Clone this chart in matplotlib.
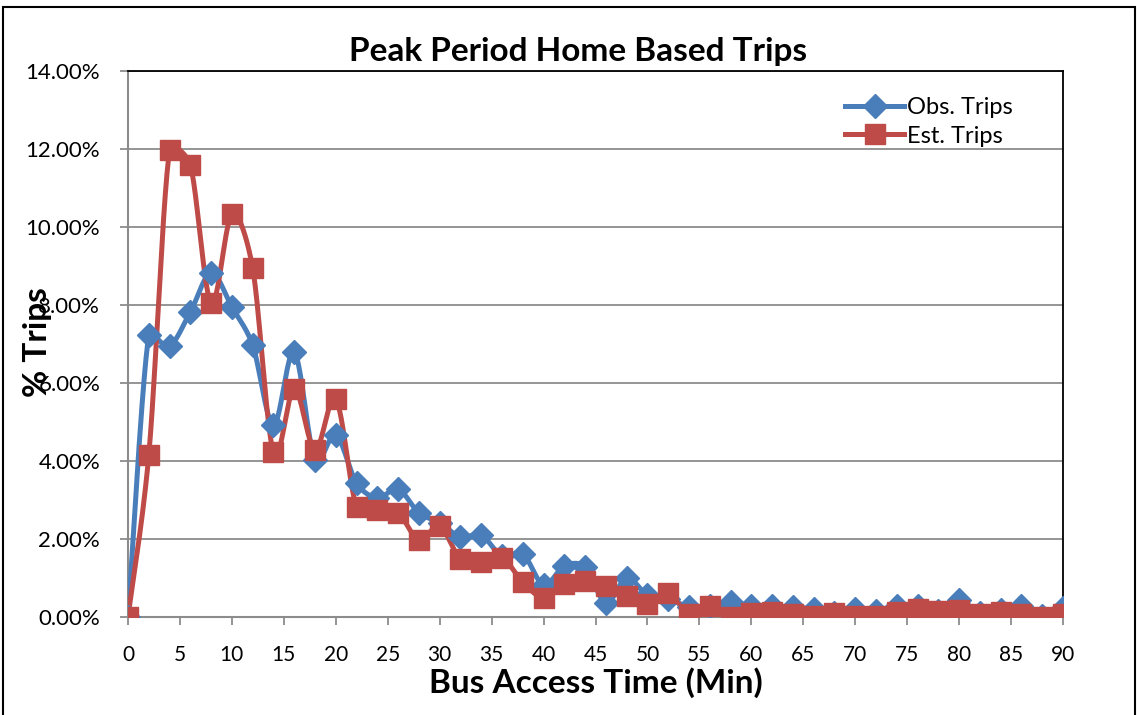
import numpy as np
import matplotlib
matplotlib.use("Agg")
import matplotlib.pyplot as plt
from matplotlib.patches import Rectangle
from matplotlib.ticker import FuncFormatter, MultipleLocator

# bus access time in minutes, one point every 2 minutes
minutes = list(range(0, 91, 2))

obs_trips = [0.00, 7.23, 6.95, 7.82, 8.82, 7.95, 6.97, 4.92, 6.79, 4.03,
             4.67, 3.43, 3.05, 3.28, 2.67, 2.42, 2.05, 2.10, 1.56, 1.62,
             0.82, 1.31, 1.28, 0.36, 1.00, 0.56, 0.46, 0.26, 0.28, 0.38,
             0.28, 0.28, 0.25, 0.20, 0.10, 0.20, 0.15, 0.28, 0.28, 0.15,
             0.44, 0.10, 0.18, 0.28, 0.03, 0.22]

est_trips = [0.00, 4.15, 11.97, 11.60, 8.05, 10.33, 8.95, 4.23, 5.85, 4.28,
             5.59, 2.82, 2.74, 2.67, 1.97, 2.33, 1.49, 1.41, 1.52, 0.90,
             0.49, 0.85, 0.92, 0.79, 0.54, 0.33, 0.62, 0.08, 0.28, 0.00,
             0.10, 0.13, 0.07, 0.03, 0.10, 0.03, 0.03, 0.13, 0.20, 0.15,
             0.18, 0.07, 0.12, 0.07, 0.00, 0.07]

series_names = ["Obs. Trips", "Est. Trips"]
BLUE = "#4A7EBB"
RED = "#BE4B48"
FONT = "Lato"


def smooth(ax, x, y, n=24, clip=0.4):
    # Excel-like smoothed line, built in pixel space so the control arms
    # can be clipped to the segment length (stops the big overshoots)
    pts = ax.transData.transform(np.column_stack([x, y]))
    P = np.vstack([pts[0], pts, pts[-1]])
    t = np.linspace(0, 1, n, endpoint=False)[:, None]
    out = []
    for i in range(1, len(P) - 2):
        p0, p1, p2, p3 = P[i - 1], P[i], P[i + 1], P[i + 2]
        seg = np.linalg.norm(p2 - p1)
        a1 = (p2 - p0) / 6
        a2 = (p3 - p1) / 6
        for a in (a1, a2):
            la = np.linalg.norm(a)
            if la > clip * seg and la > 0:
                a *= clip * seg / la
        c1, c2 = p1 + a1, p2 - a2
        out.append((1 - t) ** 3 * p1 + 3 * t * (1 - t) ** 2 * c1
                   + 3 * t ** 2 * (1 - t) * c2 + t ** 3 * p2)
    out.append(P[-2][None, :])
    out = np.vstack(out)
    data = ax.transData.inverted().transform(out)
    return data[:, 0], data[:, 1]


W, H = 1137, 715
fig = plt.figure(figsize=(W / 100, H / 100), dpi=100)
ax = fig.add_axes([128 / W, 1 - 617 / H, (1063 - 128) / W, (617 - 71) / H])
ax.set_xlim(0, 90)
ax.set_ylim(0, 14)

for vals, color, marker, ms, name in [(obs_trips, BLUE, "D", 12.5, series_names[0]),
                                      (est_trips, RED, "s", 14.5, series_names[1])]:
    sx, sy = smooth(ax, minutes, vals)
    ax.plot(sx, sy, color=color, lw=3.6, zorder=3, solid_capstyle="round")
    ax.plot(minutes, vals, linestyle="none", marker=marker, ms=ms,
            color=color, zorder=4)
    ax.plot([], [], color=color, lw=3.6, marker=marker, ms=ms, label=name)

ax.xaxis.set_major_locator(MultipleLocator(5))
ax.yaxis.set_major_locator(MultipleLocator(2))
ax.yaxis.set_major_formatter(FuncFormatter(lambda v, p: f"{v:.2f}%"))
ax.grid(axis="y", color="#8c8c8c", lw=1.3)
ax.set_axisbelow(True)

for side in ["left", "bottom"]:
    ax.spines[side].set_color("#8c8c8c")
    ax.spines[side].set_linewidth(1.5)
for side in ["top", "right"]:
    ax.spines[side].set_color("black")
    ax.spines[side].set_linewidth(1.3)
ax.tick_params(axis="both", colors="#8c8c8c", length=6, width=1.3,
               labelsize=15, labelcolor="black")
ax.tick_params(axis="y", pad=14, labelsize=16)
ax.tick_params(axis="x", pad=14)
for lab in ax.get_xticklabels() + ax.get_yticklabels():
    lab.set_family(FONT)

# chart title sits a little left of the plot centre, as in the original
fig.text(578 / W, 1 - 52 / H, "Peak Period Home Based Trips", fontsize=24,
         fontweight="bold", family=FONT, ha="center", va="center")
ax.set_xlabel("Bus Access Time (Min)", fontsize=24, fontweight="bold",
              family=FONT, labelpad=2)
fig.text(38 / W, 1 - 342 / H, "% Trips", rotation=90, fontsize=24,
         fontweight="bold", family=FONT, ha="center", va="center")

leg = ax.legend(loc="upper left", bbox_to_anchor=(836 / W - 128 / W, 0.99),
                bbox_transform=fig.transFigure, frameon=False,
                prop={"family": FONT, "size": 17}, handlelength=2.5,
                handletextpad=0.1, labelspacing=0.3, borderaxespad=0)
leg.set_bbox_to_anchor((836 / W, 1 - 88 / H), transform=fig.transFigure)

fig.patches.append(Rectangle((3 / W, -0.01), 1 - 5 / W, 1 - 7 / H + 0.01,
                             transform=fig.transFigure, fill=False,
                             edgecolor="black", lw=1.5))

fig.savefig("out.png", dpi=100)
